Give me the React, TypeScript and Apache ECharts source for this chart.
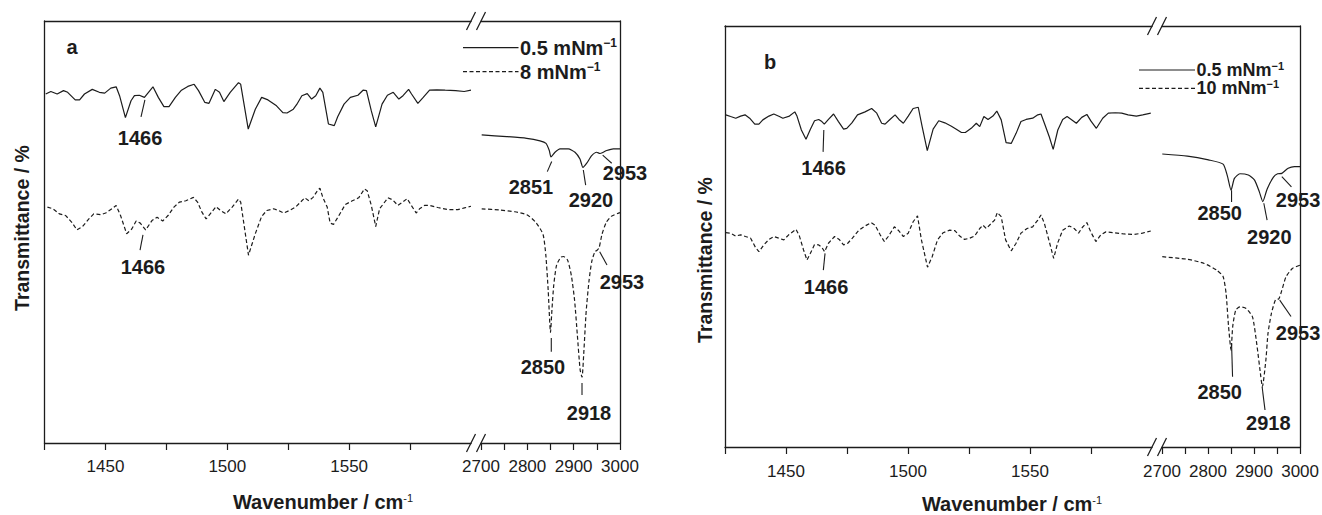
import React, { useEffect, useRef } from "react";
import * as echarts from "echarts";

// ---------------- data ----------------
const lowTicks = [1425, 1450, 1475, 1500, 1525, 1550, 1575];
const lowLabels = [1450, 1500, 1550];
const highTicks = [2700, 2750, 2800, 2850, 2900, 2950, 3000];
const highLabels = [2700, 2800, 2900, 3000];

const legendA = ["0.5 mNm", "8 mNm"];
const legendB = ["0.5 mNm", "10 mNm"];

// panel a, 1425-1600 cm-1
const aSolidLow = [
  [1425.5, 82.7], [1427.6, 83.3], [1430.2, 82.7], [1432.8, 83.5], [1434.5, 83.1], [1437.6, 81.3], [1439.4, 81.3],
  [1441.4, 82.7], [1444.6, 83.8], [1447.5, 83.1], [1449.7, 82.9], [1452.2, 84.1], [1454.4, 84.4], [1455.8, 82.3],
  [1458.2, 77.1], [1460.5, 81.1], [1461.9, 82.3], [1463.9, 82.4], [1466.0, 81.9], [1469.5, 84.4], [1471.7, 81.9],
  [1474.0, 79.7], [1476.1, 79.7], [1478.7, 81.9], [1481.2, 83.6], [1483.8, 84.5], [1486.4, 85.0], [1488.2, 83.5],
  [1490.8, 80.7], [1492.5, 80.5], [1495.1, 83.8], [1496.8, 83.1], [1498.6, 80.9], [1501.2, 83.1], [1504.6, 85.4],
  [1505.5, 85.0], [1508.6, 74.4], [1511.5, 79.1], [1514.1, 81.9], [1516.7, 81.3], [1520.2, 79.9], [1522.8, 78.3],
  [1524.5, 78.2], [1527.1, 79.1], [1528.8, 80.5], [1530.6, 82.3], [1532.8, 82.8], [1534.6, 81.5], [1536.3, 82.3],
  [1538.0, 84.1], [1539.2, 83.1], [1541.5, 75.6], [1543.9, 75.2], [1545.3, 77.3], [1547.9, 80.3], [1550.5, 81.9],
  [1553.6, 82.4], [1555.7, 83.6], [1557.1, 83.5], [1559.1, 78.7], [1560.9, 74.9], [1563.5, 80.3], [1565.7, 82.4],
  [1568.1, 83.1], [1570.4, 81.5], [1572.1, 82.3], [1574.4, 83.8], [1575.6, 82.7], [1578.2, 80.5], [1580.4, 81.9],
  [1583.0, 83.6], [1586.0, 83.7], [1589.4, 83.6], [1593.7, 83.5], [1597.2, 83.3], [1600.0, 83.6],
];
const aDashLow = [
  [1426.2, 55.9], [1428.5, 55.5], [1431.1, 54.3], [1433.7, 53.9], [1436.2, 52.3], [1438.3, 50.5], [1440.6, 51.3],
  [1443.2, 53.1], [1445.2, 54.3], [1448.0, 54.1], [1450.1, 54.5], [1452.7, 55.5], [1454.4, 56.3], [1456.2, 53.9],
  [1458.7, 49.6], [1460.8, 50.7], [1462.6, 52.6], [1464.3, 52.1], [1466.5, 50.5], [1469.1, 52.7], [1471.2, 53.5],
  [1473.5, 52.6], [1475.7, 53.9], [1478.1, 55.9], [1480.4, 57.1], [1483.0, 57.4], [1486.1, 58.2], [1487.8, 57.1],
  [1489.6, 54.7], [1491.3, 53.1], [1493.0, 54.3], [1495.4, 56.0], [1497.2, 55.1], [1499.4, 54.3], [1502.0, 55.9],
  [1504.6, 57.8], [1505.5, 57.1], [1508.7, 44.5], [1511.5, 49.6], [1514.1, 53.7], [1516.2, 55.1], [1519.0, 55.5],
  [1521.1, 55.1], [1523.1, 54.5], [1525.9, 55.2], [1528.0, 55.9], [1530.1, 57.1], [1531.8, 58.1], [1533.5, 57.4],
  [1535.2, 58.2], [1537.0, 59.8], [1538.0, 60.4], [1539.2, 58.2], [1541.0, 55.9], [1542.2, 52.1], [1543.6, 51.8],
  [1545.6, 53.7], [1548.4, 56.5], [1551.3, 57.4], [1553.9, 58.1], [1556.3, 60.2], [1557.4, 59.8], [1559.1, 56.3],
  [1560.9, 51.3], [1562.5, 55.5], [1565.9, 58.1], [1567.9, 57.6], [1570.0, 56.3], [1572.0, 57.1], [1573.8, 57.9],
  [1575.5, 56.3], [1577.5, 54.5], [1578.9, 55.5], [1580.9, 56.3], [1583.0, 56.3], [1586.4, 55.8], [1590.5, 55.3],
  [1594.6, 55.3], [1597.3, 55.7], [1600.0, 56.1],
];
// panel a, 2700-3000 cm-1
const aSolidHigh = [
  [2701.5, 73.0], [2755.5, 72.6], [2798.6, 72.2], [2827.3, 71.6], [2840.3, 71.0], [2847.4, 69.3], [2851.0, 67.8],
  [2859.7, 68.9], [2870.5, 69.7], [2888.4, 69.7], [2902.9, 68.9], [2913.6, 67.3], [2920.0, 65.3], [2928.2, 66.3],
  [2938.9, 68.1], [2949.7, 68.9], [2956.8, 68.6], [2963.9, 68.9], [2971.3, 69.3], [2985.5, 69.7], [3000.0, 69.7],
];
const aDashHigh = [
  [2701.5, 55.5], [2741, 55.2], [2773, 54.8], [2799, 54.1], [2819, 52.2], [2834, 49.4], [2840, 44.4], [2845, 36.2],
  [2850, 26.2], [2853, 31.4], [2857, 37.4], [2863, 42.1], [2872, 44.0], [2878, 44.2], [2887, 43.3], [2895, 39.7],
  [2902, 33.8], [2908, 25.5], [2914, 17.3], [2918, 15.6], [2922, 21.7], [2927, 31.2], [2933, 38.3], [2939, 43.0],
  [2946, 45.4], [2950, 45.6], [2955, 46.3], [2961, 49.4], [2970, 52.2], [2981, 53.7], [3000, 54.6],
];

// panel b, 1425-1600 cm-1
const bSolidLow = [
  [1425.3, 78.9], [1427.3, 78.5], [1429.4, 78.1], [1431.4, 78.6], [1433.2, 78.9], [1435.1, 78.1], [1437.2, 76.7],
  [1438.9, 76.7], [1440.5, 77.7], [1443.0, 78.6], [1445.0, 79.1], [1447.3, 78.5], [1448.7, 78.1], [1451.4, 78.6],
  [1453.6, 79.6], [1454.5, 78.6], [1456.3, 75.3], [1458.2, 73.1], [1460.0, 75.5], [1461.7, 77.5], [1463.4, 77.8],
  [1464.7, 77.3], [1465.7, 76.7], [1467.4, 77.8], [1469.5, 79.1], [1471.5, 77.3], [1473.6, 75.5], [1474.9, 75.7],
  [1477.0, 77.0], [1479.3, 78.9], [1482.4, 79.6], [1485.1, 80.4], [1487.2, 79.3], [1489.2, 76.9], [1490.6, 76.7],
  [1492.6, 77.8], [1494.7, 78.9], [1496.3, 77.8], [1498.1, 76.9], [1500.1, 78.6], [1502.1, 80.4], [1504.2, 80.7],
  [1505.8, 76.1], [1507.9, 70.4], [1510.3, 75.5], [1512.6, 77.5], [1515.1, 77.0], [1517.8, 76.2], [1519.8, 75.5],
  [1521.9, 74.7], [1523.5, 74.7], [1525.9, 75.7], [1528.0, 76.9], [1529.4, 76.1], [1531.1, 78.5], [1532.8, 77.8],
  [1534.8, 78.6], [1536.4, 79.8], [1538.2, 77.7], [1540.2, 72.3], [1542.3, 72.1], [1544.3, 74.5], [1546.3, 77.3],
  [1548.4, 77.8], [1551.1, 78.1], [1553.2, 78.9], [1554.5, 79.1], [1555.9, 76.9], [1557.9, 73.7], [1559.5, 70.7],
  [1561.4, 75.3], [1563.4, 77.8], [1565.2, 78.5], [1566.9, 77.8], [1569.0, 76.9], [1571.2, 78.3], [1573.3, 79.0],
  [1575.0, 77.4], [1577.2, 75.7], [1579.8, 78.1], [1582.1, 79.3], [1585.0, 79.4], [1587.6, 79.3], [1590.2, 78.9],
  [1593.6, 78.6], [1596.2, 78.9], [1599.5, 79.3],
];
const bDashLow = [
  [1425.3, 50.9], [1427.3, 50.8], [1429.4, 50.1], [1431.4, 50.4], [1433.4, 50.0], [1435.5, 49.6], [1437.5, 47.4],
  [1438.9, 46.4], [1440.9, 48.0], [1443.0, 49.3], [1445.0, 50.0], [1447.0, 49.6], [1449.1, 49.2], [1451.1, 50.4],
  [1454.1, 51.7], [1455.5, 50.1], [1457.2, 46.8], [1458.6, 44.4], [1460.0, 46.0], [1461.7, 48.1], [1463.4, 48.0],
  [1464.7, 47.4], [1465.8, 46.4], [1467.4, 48.4], [1469.9, 50.0], [1471.8, 49.3], [1473.6, 48.0], [1475.3, 48.4],
  [1477.2, 49.6], [1479.7, 51.4], [1482.4, 52.5], [1484.9, 53.3], [1486.5, 52.7], [1488.6, 50.4], [1490.3, 48.8],
  [1491.9, 50.0], [1494.4, 52.3], [1496.0, 51.5], [1498.1, 50.0], [1500.1, 50.8], [1502.1, 53.5], [1503.9, 54.9],
  [1505.5, 49.2], [1508.0, 42.7], [1509.9, 45.2], [1512.1, 49.2], [1514.4, 50.9], [1517.1, 51.5], [1519.2, 51.4],
  [1521.2, 50.1], [1523.2, 49.3], [1525.3, 49.6], [1527.3, 50.1], [1529.4, 51.9], [1530.7, 52.7], [1532.1, 51.9],
  [1534.1, 53.1], [1535.5, 53.9], [1536.6, 55.7], [1538.2, 54.7], [1540.0, 49.2], [1542.3, 46.6], [1544.3, 48.4],
  [1546.3, 50.8], [1548.8, 51.9], [1551.1, 52.3], [1553.2, 53.9], [1554.5, 55.1], [1555.9, 53.1], [1557.9, 48.8],
  [1559.7, 44.8], [1561.3, 48.4], [1563.4, 51.5], [1566.1, 52.5], [1568.1, 51.9], [1569.9, 50.8], [1571.5, 52.2],
  [1573.3, 53.3], [1574.9, 51.1], [1577.0, 48.8], [1579.0, 50.4], [1581.1, 51.1], [1584.5, 50.9], [1588.6, 50.6],
  [1592.7, 50.5], [1596.1, 50.8], [1599.5, 51.3],
];
// panel b, 2700-3000 cm-1
const bSolidHigh = [
  [2700.6, 69.6], [2755.2, 69.1], [2801.0, 68.2], [2832.7, 67.2], [2842.0, 64.4], [2850.0, 61.0], [2857.3, 63.8],
  [2869.2, 64.9], [2887.5, 64.6], [2901.1, 63.4], [2911.5, 60.6], [2919.0, 58.3], [2928.5, 61.3], [2942.1, 64.1],
  [2951.2, 64.9], [2960.3, 65.0], [2974.1, 66.2], [2987.7, 66.6], [3000.0, 66.6],
];
const bDashHigh = [
  [2700.6, 45.2], [2755.2, 44.6], [2791.7, 43.6], [2819.1, 42.0], [2832.7, 40.5], [2839.2, 36.5], [2844.6, 28.6],
  [2850.0, 23.0], [2853.6, 28.6], [2860.1, 32.5], [2869.2, 33.3], [2882.8, 32.9], [2896.6, 30.9], [2905.7, 24.6],
  [2914.7, 16.7], [2918.0, 14.3], [2925.7, 20.7], [2930.3, 27.0], [2937.6, 31.7], [2946.7, 35.0], [2953.8, 35.2],
  [2960.3, 37.2], [2969.3, 40.4], [2983.1, 42.4], [3000.0, 43.2],
];

// ---------------- layout / style ----------------
const FONT = '"Liberation Sans", Arial, Helvetica, sans-serif';
const INK = "#1c1c1c";
const DASH = [4, 2.5];

const panels = [
  {
    low: { left: 44.5, width: 426.5 },
    high: { left: 481, width: 139 },
    top: 21,
    height: 422,
    labelMargin: 15,
  },
  {
    low: { left: 725, width: 427 },
    high: { left: 1162, width: 139 },
    top: 26,
    height: 421,
    labelMargin: 16,
  },
];

// annotations (data coordinates of leader line and label)
const annotations = [
  { g: 0, line: [[1466.2, 81.3], [1464.6, 77.3]], text: "1466", at: [1464.2, 72.3] },
  { g: 0, line: [[1465.4, 49.3], [1464.2, 45.7]], text: "1466", at: [1465.4, 41.7] },
  { g: 1, line: [[2852.6, 66.7], [2843.1, 64.3]], text: "2851", at: [2807.9, 60.7] },
  { g: 1, line: [[2920.8, 64.7], [2925.9, 61.1]], text: "2920", at: [2937.4, 57.6] },
  { g: 1, line: [[2962.6, 68.2], [2982.1, 66.3]], text: "2953", at: [3010.8, 64.0] },
  { g: 1, line: [[2851.7, 24.9], [2851.7, 21.6]], text: "2850", at: [2833.8, 18.0] },
  { g: 1, line: [[2918.0, 14.2], [2918.0, 11.4]], text: "2918", at: [2933.1, 7.1] },
  { g: 1, line: [[2956.2, 45.3], [2971.9, 42.2]], text: "2953", at: [3004.3, 38.2] },
  { g: 2, line: [[1465.5, 75.3], [1465.2, 70.1]], text: "1466", at: [1465.4, 66.3] },
  { g: 2, line: [[1466.0, 46.0], [1465.3, 42.0]], text: "1466", at: [1466.4, 38.0] },
  { g: 3, line: [[2851.1, 61.0], [2851.1, 58.2]], text: "2850", at: [2825.2, 55.6] },
  { g: 3, line: [[2921.2, 57.9], [2928.3, 53.9]], text: "2920", at: [2933.1, 49.9] },
  { g: 3, line: [[2960.3, 64.2], [2981.2, 61.8]], text: "2953", at: [2995.6, 58.7] },
  { g: 3, line: [[2851.1, 24.7], [2853.3, 16.7]], text: "2850", at: [2825.2, 13.1] },
  { g: 3, line: [[2917.5, 14.3], [2923.8, 8.8]], text: "2918", at: [2930.9, 5.7] },
  { g: 3, line: [[2955.7, 34.9], [2980.3, 31.0]], text: "2953", at: [2995.6, 27.1] },
];

function buildOption() {
  const grid: any[] = [];
  const xAxis: any[] = [];
  const yAxis: any[] = [];
  const series: any[] = [];
  const lineAxis = { show: true, onZero: false, lineStyle: { color: INK, width: 1.3 } };

  panels.forEach((p, pi) => {
    (["low", "high"] as const).forEach((seg, si) => {
      const g = pi * 2 + si;
      const isLow = seg === "low";
      grid.push({ left: p[seg].left, width: p[seg].width, top: p.top, height: p.height, containLabel: false });
      const min = isLow ? 1425 : 2700;
      const max = isLow ? 1600 : 3000;
      xAxis.push({
        type: "value",
        gridIndex: g,
        position: "bottom",
        min,
        max,
        axisLine: lineAxis,
        axisTick: {
          show: true,
          inside: false,
          length: 7,
          customValues: isLow ? lowTicks : highTicks,
          lineStyle: { color: INK, width: 1.2 },
        },
        axisLabel: {
          show: true,
          customValues: isLow ? lowLabels : highLabels,
          margin: p.labelMargin,
          fontSize: 17,
          color: INK,
          fontFamily: FONT,
          formatter: (v: number) => String(v),
        },
        splitLine: { show: false },
      });
      xAxis.push({
        type: "value",
        gridIndex: g,
        position: "top",
        min,
        max,
        axisLine: lineAxis,
        axisTick: { show: false },
        axisLabel: { show: false },
        splitLine: { show: false },
      });
      yAxis.push({
        type: "value",
        gridIndex: g,
        position: isLow ? "left" : "right",
        min: 0,
        max: 100,
        axisLine: lineAxis,
        axisTick: { show: false },
        axisLabel: { show: false },
        splitLine: { show: false },
      });
    });
  });

  const seriesDefs = [
    { g: 0, data: aSolidLow, dashed: false },
    { g: 0, data: aDashLow, dashed: true },
    { g: 1, data: aSolidHigh, dashed: false },
    { g: 1, data: aDashHigh, dashed: true },
    { g: 2, data: bSolidLow, dashed: false },
    { g: 2, data: bDashLow, dashed: true },
    { g: 3, data: bSolidHigh, dashed: false },
    { g: 3, data: bDashHigh, dashed: true },
  ];
  seriesDefs.forEach((s) => {
    series.push({
      type: "line",
      xAxisIndex: s.g * 2,
      yAxisIndex: s.g,
      data: s.data,
      showSymbol: false,
      symbol: "none",
      silent: true,
      smooth: s.g % 2 === 1 ? 0.2 : false,
      lineStyle: { color: INK, width: 1.2, type: s.dashed ? DASH : "solid" },
    });
  });

  return { animation: false, backgroundColor: "#fff", grid, xAxis, yAxis, series };
}

function staticGraphics() {
  const els: any[] = [];
  const sup = (main: string, size: number, supSize: number, weight: string) => ({
    text: `{m|${main}}{s|\u22121}`,
    rich: {
      m: { fontSize: size, fontWeight: weight, fontFamily: FONT, fill: INK, lineHeight: size + 2 },
      s: { fontSize: supSize, fontWeight: weight, fontFamily: FONT, fill: INK, verticalAlign: "top", lineHeight: size + 2 },
    },
  });

  // break marks
  panels.forEach((p) => {
    const lowEnd = p.low.left + p.low.width;
    const hiStart = p.high.left;
    [p.top, p.top + p.height].forEach((y) => {
      [lowEnd, hiStart].forEach((x) => {
        els.push({
          type: "line",
          shape: { x1: x - 4.5, y1: y + 9, x2: x + 4.5, y2: y - 9 },
          style: { stroke: INK, lineWidth: 1.2 },
        });
      });
    });
  });

  // panel letters
  els.push({ type: "text", x: 72, y: 47, style: { text: "a", font: `bold 20px ${FONT}`, fill: INK, align: "center", verticalAlign: "middle" } });
  els.push({ type: "text", x: 770, y: 62, style: { text: "b", font: `bold 20px ${FONT}`, fill: INK, align: "center", verticalAlign: "middle" } });

  // legends
  const legends = [
    { x1: 463, x2: 518.5, y: [47.7, 71.7], labels: legendA, size: 20 },
    { x1: 1139, x2: 1195, y: [70, 88.3], labels: legendB, size: 18 },
  ];
  legends.forEach((L) => {
    L.labels.forEach((lab, i) => {
      els.push({
        type: "line",
        shape: { x1: L.x1, y1: L.y[i], x2: L.x2, y2: L.y[i] },
        style: { stroke: INK, lineWidth: 1.2, lineDash: i === 1 ? DASH : null },
      });
      els.push({
        type: "text",
        x: L.x2 + 1.5,
        y: L.y[i],
        style: { ...sup(lab, L.size, Math.round(L.size * 0.62), "bold"), align: "left", verticalAlign: "middle" },
      });
    });
  });

  // axis titles
  const yTitles = [
    { x: 22, y: 228 },
    { x: 705, y: 260 },
  ];
  yTitles.forEach((t) => {
    els.push({
      type: "text",
      x: t.x,
      y: t.y,
      rotation: Math.PI / 2,
      style: { text: "Transmittance / %", font: `bold 19.5px ${FONT}`, fill: INK, align: "center", verticalAlign: "middle" },
    });
  });
  const xTitles = [
    { x: 323, y: 502 },
    { x: 1012, y: 504 },
  ];
  xTitles.forEach((t) => {
    els.push({
      type: "text",
      x: t.x,
      y: t.y,
      style: {
        text: "{m|Wavenumber / cm}{s|-1}",
        rich: {
          m: { fontSize: 20, fontWeight: "bold", fontFamily: FONT, fill: INK, lineHeight: 20 },
          s: { fontSize: 11, fontFamily: FONT, fill: INK, verticalAlign: "top", lineHeight: 20 },
        },
        align: "center",
        verticalAlign: "middle",
      },
    });
  });
  return els;
}

export default function App() {
  const ref = useRef<HTMLDivElement>(null);
  useEffect(() => {
    if (!ref.current) return;
    const chart = echarts.init(ref.current, undefined, { renderer: "svg" });
    chart.setOption(buildOption() as any);

    const ann: any[] = [];
    annotations.forEach((a) => {
      const finder = { xAxisIndex: a.g * 2, yAxisIndex: a.g };
      const p1 = chart.convertToPixel(finder as any, a.line[0]) as number[];
      const p2 = chart.convertToPixel(finder as any, a.line[1]) as number[];
      const pt = chart.convertToPixel(finder as any, a.at) as number[];
      if (!p1 || !p2 || !pt) return;
      ann.push({
        type: "line",
        shape: { x1: p1[0], y1: p1[1], x2: p2[0], y2: p2[1] },
        style: { stroke: INK, lineWidth: 1.1 },
      });
      ann.push({
        type: "text",
        x: pt[0],
        y: pt[1],
        style: { text: a.text, font: `bold 20px ${FONT}`, fill: INK, align: "center", verticalAlign: "middle" },
      });
    });
    chart.setOption({ graphic: { elements: [...staticGraphics(), ...ann] } } as any);

    return () => chart.dispose();
  }, []);
  return (
    <div
      ref={ref}
      style={{ position: "fixed", left: 0, top: 0, width: 1322, height: 515, background: "#fff" }}
    />
  );
}
